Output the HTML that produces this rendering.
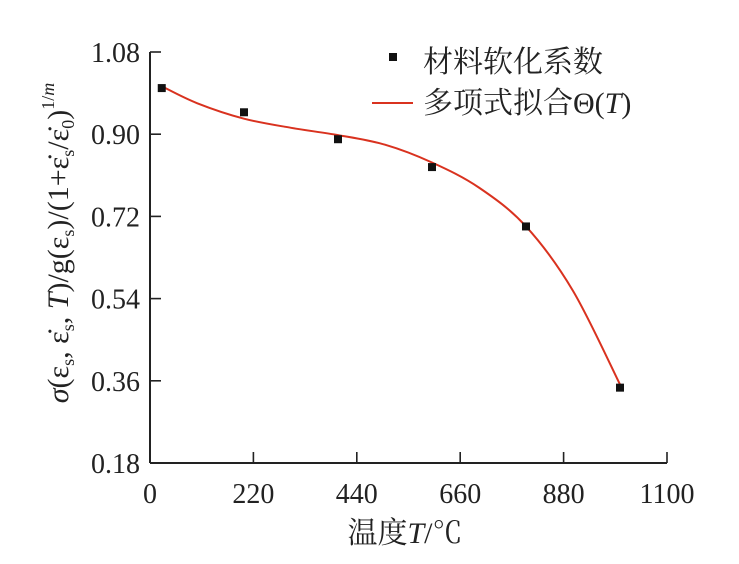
<!DOCTYPE html>
<html><head><meta charset="utf-8"><style>
html,body{margin:0;padding:0;background:#fff}
svg{display:block;font-family:"Liberation Serif","Noto Serif CJK SC",serif}
</style></head><body>
<svg width="739" height="564" viewBox="0 0 739 564">
<g id="axes"></g>
<g id="series"></g>
<g>
  <rect x="389" y="53" width="8" height="8" fill="#111"/>
  <text x="423" y="72" font-size="30" fill="#222">材料软化系数</text>
  <line x1="372" y1="103" x2="413" y2="103" stroke="#d9321f" stroke-width="2"/>
  <text x="423" y="113" font-size="30" fill="#222">多项式拟合Θ(<tspan font-style="italic">T</tspan>)</text>
</g>
<text x="405" y="543" font-size="30" text-anchor="middle" fill="#222">温度<tspan font-style="italic">T</tspan>/℃</text>
<text transform="translate(68,243) rotate(-90)" font-size="30" text-anchor="middle" fill="#222"><tspan font-style="italic">σ</tspan>(ε<tspan font-size="18" dy="6">s</tspan><tspan dy="-6">, ε̇</tspan><tspan font-size="18" dy="6">s</tspan><tspan dy="-6">, </tspan><tspan font-style="italic">T</tspan>)/g(ε<tspan font-size="18" dy="6">s</tspan><tspan dy="-6">)/(1+ε̇</tspan><tspan font-size="18" dy="6">s</tspan><tspan dy="-6">/ε̇</tspan><tspan font-size="18" dy="6">0</tspan><tspan dy="-6">)</tspan><tspan font-size="18" dy="-14">1/</tspan><tspan font-size="18" font-style="italic">m</tspan></text>
</svg>
<script>
const xTicks=[0,220,440,660,880,1100];
const yTicks=[0.18,0.36,0.54,0.72,0.90,1.08];
const yTickLabels=["0.18","0.36","0.54","0.72","0.90","1.08"];
const pointX=[25,200,400,600,800,1000];
const pointY=[1.001,0.948,0.889,0.828,0.698,0.345];
const fitX=[25,100,200,300,400,500,600,700,800,900,1000];
const fitY=[1.005,0.968,0.934,0.914,0.898,0.877,0.838,0.783,0.698,0.557,0.352];
const NS="http://www.w3.org/2000/svg";
const X0=150,X1=667,Y0=463,Y1=52;
const sx=v=>X0+(v-0)/(1100-0)*(X1-X0);
const sy=v=>Y0-(v-0.18)/(1.08-0.18)*(Y0-Y1);
function mk(t,a,p){const e=document.createElementNS(NS,t);for(const k in a)e.setAttribute(k,a[k]);p.appendChild(e);return e;}
const ax=document.getElementById('axes'),se=document.getElementById('series');
let l=mk('line',{x1:X0,y1:Y0,x2:X1,y2:Y0,stroke:'#222','stroke-width':2},ax);


l=mk('line',{x1:X0,y1:Y0,x2:X0,y2:Y1,stroke:'#222','stroke-width':2},ax);


xTicks.forEach(v=>{
  const t=mk('line',{x1:sx(v),y1:Y0,x2:sx(v),y2:Y0-11,stroke:'#222','stroke-width':1.6},ax);
  
  
  const tx=mk('text',{x:sx(v),y:Y0+40,'font-size':28,'text-anchor':'middle',fill:'#222'},ax);
  tx.textContent=String(v);
  
  
});
yTicks.forEach((v,i)=>{
  const t=mk('line',{x1:X0,y1:sy(v),x2:X0+11,y2:sy(v),stroke:'#222','stroke-width':1.6},ax);
  
  
  const tx=mk('text',{x:X0-10,y:sy(v)+10,'font-size':28,'text-anchor':'end',fill:'#222'},ax);
  tx.textContent=yTickLabels[i];
  
  
});
const P=fitX.map((x,i)=>[sx(x),sy(fitY[i])]);
let d='M'+P[0][0]+','+P[0][1];
for(let i=0;i<P.length-1;i++){
  const p0=P[Math.max(0,i-1)],p1=P[i],p2=P[i+1],p3=P[Math.min(P.length-1,i+2)];
  const c1=[p1[0]+(p2[0]-p0[0])/6,p1[1]+(p2[1]-p0[1])/6];
  const c2=[p2[0]-(p3[0]-p1[0])/6,p2[1]-(p3[1]-p1[1])/6];
  d+=' C'+c1+' '+c2+' '+p2;
}
const path=mk('path',{d:d,fill:'none',stroke:'#d9321f','stroke-width':2},se);


pointX.forEach((x,i)=>{
  const r=mk('rect',{x:sx(x)-4,y:sy(pointY[i])-4,width:8,height:8,fill:'#111'},se);
  
  
});
</script>
</body></html>
